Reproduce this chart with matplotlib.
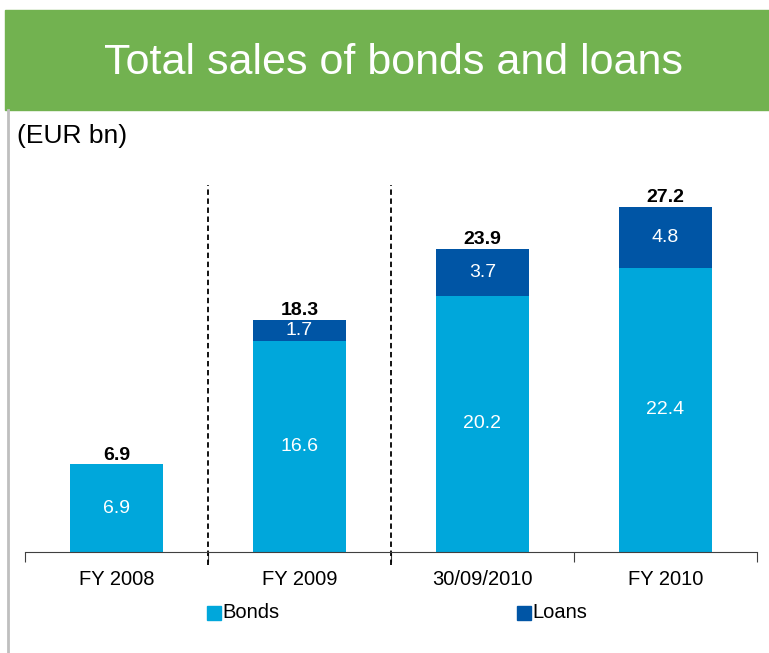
#!/usr/bin/env python3
"""Total sales of bonds and loans - stacked bar chart."""

import matplotlib
matplotlib.use("Agg")
import matplotlib.pyplot as plt
from matplotlib.patches import Rectangle
from matplotlib.lines import Line2D

# Data
categories = ['FY 2008', 'FY 2009', '30/09/2010', 'FY 2010']
bonds = [6.9, 16.6, 20.2, 22.4]
loans = [0.0, 1.7, 3.7, 4.8]
totals = [6.9, 18.3, 23.9, 27.2]

# Colors
COLOR_BONDS = '#00A7DB'
COLOR_LOANS = '#0055A5'
COLOR_BANNER = '#72B250'
COLOR_FRAME = '#BFBFBF'

W, H = 769, 653
plt.rcParams['font.family'] = ['Liberation Sans', 'DejaVu Sans']

fig = plt.figure(figsize=(W / 100, H / 100), dpi=100)

# Green title banner and left frame line
fig.patches.append(Rectangle((5 / W, 1 - 110 / H), (W - 5) / W, 100 / H,
                             transform=fig.transFigure, color=COLOR_BANNER,
                             zorder=0))
fig.lines.append(Line2D([8 / W, 8 / W], [0, 1 - 110 / H],
                        transform=fig.transFigure, color=COLOR_FRAME, lw=2))
fig.text(393 / W, 1 - 63 / H, 'Total sales of bonds and loans',
         color='white', fontsize=31, ha='center', va='center')
fig.text(17 / W, 1 - 136 / H, '(EUR bn)', fontsize=19, ha='left',
         va='center')

# Plot area
ax = fig.add_axes([25 / W, (H - 552) / H, (757 - 25) / W, 392 / H])
x = range(len(categories))
ax.bar(x, bonds, width=0.51, color=COLOR_BONDS)
ax.bar(x, loans, width=0.51, bottom=bonds, color=COLOR_LOANS)

for i in x:
    ax.text(i, bonds[i] / 2, f'{bonds[i]:.1f}', color='white',
            fontsize=14, ha='center', va='center')
    if loans[i] > 0:
        ax.text(i, bonds[i] + loans[i] / 2, f'{loans[i]:.1f}',
                color='white', fontsize=14, ha='center', va='center')
    ax.annotate(f'{totals[i]:.1f}', xy=(i, totals[i]), xytext=(0, 0.5),
                textcoords='offset points', ha='center', va='bottom',
                fontsize=14, fontweight='bold')

ax.set_xlim(-0.5, 3.5)
ax.set_ylim(0, 30.9)

# Dashed separators
for xs in [0.5, 1.5]:
    ax.plot([xs, xs], [-1.05, 28.9], color='black', ls=(0, (3, 2)),
            lw=1.3, clip_on=False)

for s in ['top', 'right', 'left']:
    ax.spines[s].set_visible(False)
ax.spines['bottom'].set_color('#404040')
ax.set_yticks([])
ax.set_xticks([-0.5, 0.5, 1.5, 2.5, 3.5])
ax.set_xticklabels([])
ax.tick_params(axis='x', length=7, color='#404040', direction='out')

for i in x:
    ax.text(i, -2.2, categories[i], fontsize=14.5, ha='center', va='center')

# Legend
fig.patches.append(Rectangle((207 / W, 1 - 620 / H), 14 / W, 14 / H,
                             transform=fig.transFigure, color=COLOR_BONDS))
fig.text(222 / W, 1 - 613 / H, 'Bonds', fontsize=14.5, va='center')
fig.patches.append(Rectangle((517 / W, 1 - 620 / H), 14 / W, 14 / H,
                             transform=fig.transFigure, color=COLOR_LOANS))
fig.text(532 / W, 1 - 613 / H, 'Loans', fontsize=14.5, va='center')

fig.savefig('out.png', dpi=100)
